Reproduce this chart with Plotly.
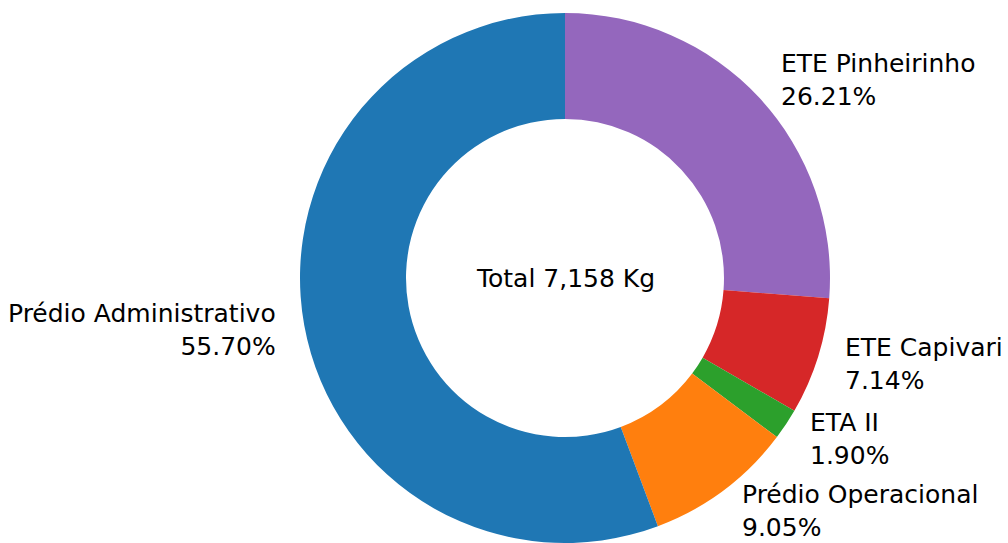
import math
import plotly.graph_objects as go

W, H = 1008, 543

labels = ["Prédio Administrativo", "Prédio Operacional", "ETA II", "ETE Capivari", "ETE Pinheirinho"]
values = [55.70, 9.05, 1.90, 7.14, 26.21]
colors = ["#1f77b4", "#ff7f0e", "#2ca02c", "#d62728", "#9467bd"]
total_label = "Total 7,158 Kg"

# pie geometry (pixels)
cx, cy, r = 565, 265, 265  # cy measured from bottom
hole = 0.6
label_dist = 1.1
font_family = "DejaVu Sans"
fs = 25

# slices run counterclockwise from 12 o'clock in the reference;
# drawn here as the reversed sequence running clockwise.
fig = go.Figure(go.Pie(
    labels=labels[::-1], values=values[::-1], sort=False, direction="clockwise",
    rotation=0, hole=hole, marker=dict(colors=colors[::-1], line=dict(width=0)),
    textinfo="none", hoverinfo="label+percent", showlegend=False,
    domain=dict(x=[(cx - r) / W, (cx + r) / W], y=[(cy - r) / H, (cy + r) / H]),
))

annotations = []
tot = sum(values)
start = 90.0
for lab, v in zip(labels, values):
    span = 360.0 * v / tot
    mid = math.radians(start + span / 2)
    start += span
    x = cx + label_dist * r * math.cos(mid)
    y = cy + label_dist * r * math.sin(mid)
    right = math.cos(mid) > 0
    annotations.append(dict(
        x=x / W, y=y / H, xref="paper", yref="paper",
        text=f"{lab}<br>{100 * v / tot:.2f}%", showarrow=False,
        xanchor="left" if right else "right", yanchor="middle",
        align="left" if right else "right",
        font=dict(family=font_family, size=fs, color="#000000"),
    ))

annotations.append(dict(
    x=cx / W, y=cy / H, xref="paper", yref="paper", text=total_label,
    showarrow=False, xanchor="center", yanchor="middle",
    font=dict(family=font_family, size=fs, color="#000000"),
))

fig.update_layout(
    width=W, height=H, margin=dict(l=0, r=0, t=0, b=0),
    paper_bgcolor="white", plot_bgcolor="white",
    annotations=annotations,
)

fig.write_html("out.html", config={"displayModeBar": False},
               post_script="document.body.style.margin='0';")
